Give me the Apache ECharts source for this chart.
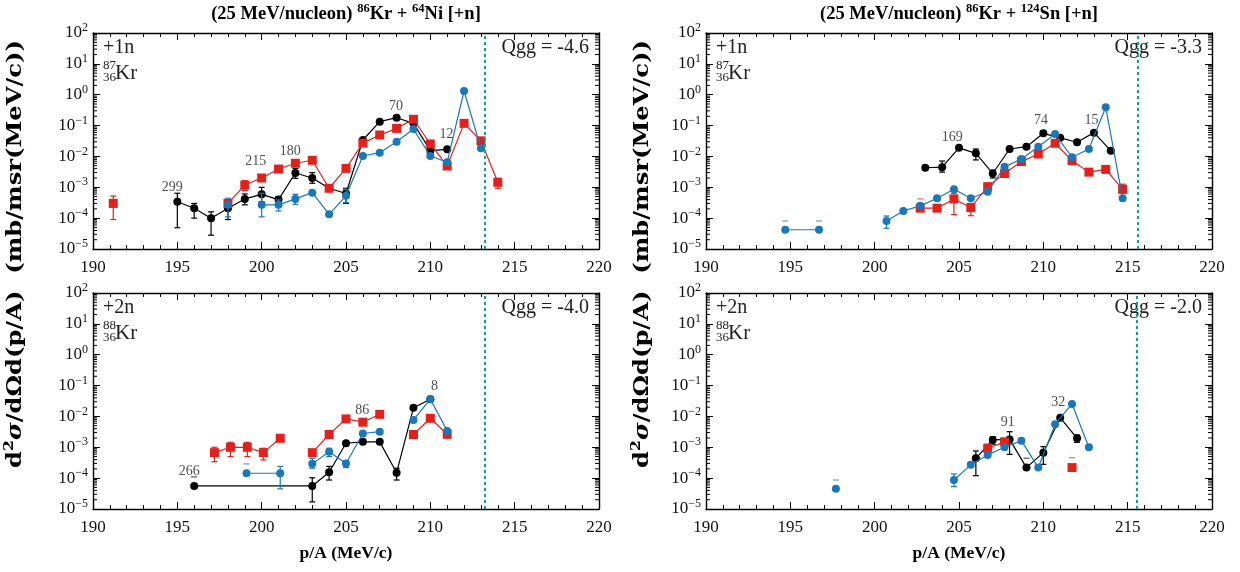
<!DOCTYPE html>
<html><head><meta charset="utf-8">
<script src="https://cdn.jsdelivr.net/npm/echarts@6/dist/echarts.min.js"></script>
<style>html,body{margin:0;padding:0;background:#fff}#c{width:1240px;height:572px}</style>
</head><body><div id="c"></div>
<script>
// ---------- DATA ----------
// Panel A: 86Kr + 64Ni, +1n (87Kr)
const A_black_x  = [195,196,197,198,199,200,201,202,203,204,205,206,207,208,209,210,211];
const A_black_y  = [3.4e-4,2.1e-4,9.9e-5,2.1e-4,4.2e-4,5.9e-4,4.0e-4,2.9e-3,2.0e-3,9.3e-4,6.3e-4,0.034,0.134,0.18,0.118,0.0154,0.017];
const A_black_lo = [4.9e-5,1.0e-4,2.8e-5,9e-5,2.7e-4,3.4e-4,3.2e-4,1.95e-3,1.35e-3,null,3.0e-4,null,null,null,null,null,null];
const A_black_hi = [6.4e-4,3.0e-4,1.6e-4,3.6e-4,6.1e-4,1.0e-3,5.0e-4,4.1e-3,3.0e-3,null,9.3e-4,null,null,null,null,null,null];
const A_red_x  = [191.2,null,198,199,200,201,202,203,204,205,206,207,208,209,210,211,212,213,214];
const A_red_y  = [3.0e-4,null,3.0e-4,1.18e-3,2.0e-3,3.9e-3,6.0e-3,7.5e-3,9.3e-4,4.1e-3,0.027,0.0495,0.081,0.16,0.0253,4.9e-3,0.118,0.032,1.45e-3];
const A_red_lo = [9e-5,null,null,7.8e-4,null,null,null,null,null,null,null,null,null,null,null,null,null,null,9.3e-4];
const A_red_hi = [5.2e-4,null,null,1.64e-3,null,null,null,null,null,null,null,null,null,null,null,null,null,null,1.95e-3];
const A_blue_x  = [198,null,200,201,202,203,204,205,206,207,208,209,210,211,212,213];
const A_blue_y  = [2.7e-4,null,2.7e-4,2.7e-4,4.2e-4,6.7e-4,1.33e-4,5.3e-4,0.0103,0.0132,0.030,0.077,0.0103,6.5e-3,1.32,0.0183];
const A_blue_lo = [1.1e-4,null,1.1e-4,1.7e-4,2.8e-4,null,null,3.2e-4,null,null,null,null,null,null,null,null];
const A_blue_hi = [4.4e-4,null,6.4e-4,3.9e-4,5.9e-4,null,null,8.6e-4,null,null,null,null,null,null,null,null];
const A_label_txt = ['299','215','180','70','12'];
const A_label_x   = [194.7,199.65,201.7,207.97,210.96];
const A_label_y   = [1.0e-3,6.8e-3,0.015,0.43,0.052];

// Panel B: 86Kr + 124Sn, +1n (87Kr)
const B_black_x  = [203,204,205,206,207,208,209,210,211,212,213,214];
const B_black_y  = [4.3e-3,4.5e-3,0.019,0.0126,2.8e-3,0.0174,0.0207,0.056,0.04,0.0288,0.059,0.0154];
const B_black_lo = [null,3.1e-3,null,7.7e-3,2.0e-3,null,null,null,null,null,null,null];
const B_black_hi = [null,7.1e-3,null,0.0174,3.6e-3,null,null,null,null,null,null,null];
const B_red_x  = [202.7,203.7,204.7,205.7,206.7,207.7,208.7,209.7,210.7,211.7,212.7,213.7,214.7];
const B_red_y  = [2.1e-4,2.1e-4,4.2e-4,2.2e-4,1.05e-3,2.8e-3,6.8e-3,0.012,0.0267,7.3e-3,3.1e-3,3.8e-3,8.6e-4];
const B_red_lo = [null,null,1.3e-4,1.2e-4,null,null,null,null,null,null,null,null,6.4e-4];
const B_red_hi = [4.2e-4,null,6.4e-4,3.0e-4,null,null,null,null,null,null,null,null,1.26e-3];
const B_blue_x  = [194.7,196.7,null,200.7,201.7,202.7,203.7,204.7,205.7,206.7,207.7,208.7,209.7,210.7,211.7,212.7,213.7,214.7];
const B_blue_y  = [4.2e-5,4.2e-5,null,8.1e-5,1.7e-4,2.5e-4,4.4e-4,8.6e-4,4.4e-4,7.2e-4,4.6e-3,8.3e-3,0.0207,0.053,9.4e-3,0.0174,0.39,4.4e-4];
const B_blue_lo = [null,null,null,4.7e-5,null,null,null,null,null,null,null,null,null,null,null,null,null,null];
const B_blue_hi = [8.1e-5,8.1e-5,null,1.17e-4,null,null,null,null,null,null,null,null,null,null,null,null,null,null];
const B_label_txt = ['169','74','15'];
const B_label_x   = [204.6,209.86,212.86];
const B_label_y   = [0.042,0.15,0.15];

// Panel C: 86Kr + 64Ni, +2n (88Kr)
const C_black_x  = [196,203,204,205,206,207,208,209,210];
const C_black_y  = [5.6e-5,5.6e-5,1.55e-4,1.35e-3,1.5e-3,1.5e-3,1.5e-4,0.019,0.036];
const C_black_lo = [null,1.7e-5,8.7e-5,null,null,null,8.7e-5,null,null];
const C_black_hi = [1.1e-4,1.03e-4,2.4e-4,null,null,null,2.1e-4,null,null];
const C_red_x  = [197.2,198.15,199.15,200.1,201.1,null,203,204,205,206,207,null,209,210,211];
const C_red_y  = [6.7e-4,1.0e-3,1.0e-3,6.7e-4,1.96e-3,null,6.7e-4,2.6e-3,8.3e-3,6.5e-3,0.0117,null,2.6e-3,8.7e-3,2.65e-3];
const C_red_lo = [3.4e-4,5.0e-4,5.0e-4,3.9e-4,null,null,null,null,null,null,null,null,null,null,2.0e-3];
const C_red_hi = [1.0e-3,1.45e-3,1.45e-3,9.3e-4,null,null,null,null,null,null,null,null,null,null,3.6e-3];
const C_blue_x  = [199.1,201.1,null,203,204,205,206,207,null,209,210,211];
const C_blue_y  = [1.44e-4,1.44e-4,null,2.9e-4,7.2e-4,3.0e-4,2.8e-3,3.2e-3,null,7.7e-3,0.0367,3.4e-3];
const C_blue_lo = [null,4.5e-5,null,2.1e-4,5.0e-4,2.2e-4,null,null,null,null,null,null];
const C_blue_hi = [2.9e-4,2.4e-4,null,4.4e-4,9.3e-4,3.7e-4,null,null,null,null,null,null];
const C_label_txt = ['266','86','8'];
const C_label_x   = [195.7,205.96,210.24];
const C_label_y   = [1.7e-4,0.016,0.092];

// Panel D: 86Kr + 124Sn, +2n (88Kr)
const D_black_x  = [206,207,208,209,210,211,212];
const D_black_y  = [4.4e-4,1.73e-3,1.8e-3,2.2e-4,6.7e-4,9.1e-3,1.96e-3];
const D_black_lo = [1.2e-4,1.26e-3,5.9e-4,null,2.8e-4,null,1.45e-3];
const D_black_hi = [7.6e-4,2.2e-3,3.2e-3,4.4e-4,1.05e-3,null,2.5e-3];
const D_red_x  = [206.7,207.7,null,211.7];
const D_red_y  = [9.3e-4,1.5e-3,null,2.2e-4];
const D_red_lo = [null,null,null,null];
const D_red_hi = [1.26e-3,null,null,4.6e-4];
const D_blue_x  = [197.7,null,204.7,205.7,206.7,207.7,208.7,209.7,210.7,211.7,212.7];
const D_blue_y  = [4.5e-5,null,8.7e-5,2.7e-4,5.6e-4,1.0e-3,1.64e-3,2.2e-4,5.6e-3,0.0253,1.0e-3];
const D_blue_lo = [null,null,5.3e-5,null,null,null,null,null,null,null,null];
const D_blue_hi = [8.7e-5,null,1.36e-4,null,null,null,null,null,null,null,null];
const D_label_txt = ['91','32'];
const D_label_x   = [207.89,210.89];
const D_label_y   = [6.3e-3,0.0288];

const QGG_X   = [213.24, 215.58, 213.24, 215.56];
const QGG_TXT = ['Qgg = -4.6','Qgg = -3.3','Qgg = -4.0','Qgg = -2.0'];
const TAGS    = ['+1n','+1n','+2n','+2n'];
const MASS    = ['87','87','88','88'];
const ZNUM = '36', ELEM = 'Kr';
const X_MIN = 190, X_MAX = 220, X_STEP = 5;
const Y_MIN = 1e-5, Y_MAX = 1e2;

// ---------- LAYOUT / STYLE ----------
const FONT = '"Liberation Serif","DejaVu Serif",serif';
const FONT2 = '"DejaVu Serif","Liberation Serif",serif';
const COL = {black:'#000000', red:'#e3211c', blue:'#1a78b8'};
const C_GREEN = '#17a083';
const GRID_POS = [[93,33],[706,33],[93,293],[706,293]];
const GW = 506, GH = 216;

const panels = [
  {black:[A_black_x,A_black_y,A_black_lo,A_black_hi], red:[A_red_x,A_red_y,A_red_lo,A_red_hi], blue:[A_blue_x,A_blue_y,A_blue_lo,A_blue_hi], lab:[A_label_txt,A_label_x,A_label_y]},
  {black:[B_black_x,B_black_y,B_black_lo,B_black_hi], red:[B_red_x,B_red_y,B_red_lo,B_red_hi], blue:[B_blue_x,B_blue_y,B_blue_lo,B_blue_hi], lab:[B_label_txt,B_label_x,B_label_y]},
  {black:[C_black_x,C_black_y,C_black_lo,C_black_hi], red:[C_red_x,C_red_y,C_red_lo,C_red_hi], blue:[C_blue_x,C_blue_y,C_blue_lo,C_blue_hi], lab:[C_label_txt,C_label_x,C_label_y]},
  {black:[D_black_x,D_black_y,D_black_lo,D_black_hi], red:[D_red_x,D_red_y,D_red_lo,D_red_hi], blue:[D_blue_x,D_blue_y,D_blue_lo,D_blue_hi], lab:[D_label_txt,D_label_x,D_label_y]}
];

const grid = GRID_POS.map(([l,t]) => ({left:l, top:t, width:GW, height:GH}));
const xAxis = [], yAxis = [];
grid.forEach((g,i) => {
  const xb = {type:'value', gridIndex:i, min:X_MIN, max:X_MAX, interval:X_STEP,
    axisLine:{show:true, onZero:false, lineStyle:{color:'#000', width:1.4}},
    axisTick:{show:true, inside:true, length:7, lineStyle:{color:'#000', width:1}},
    minorTick:{show:true, splitNumber:5, length:4, lineStyle:{color:'#000', width:1}},
    splitLine:{show:false}, minorSplitLine:{show:false}};
  xAxis.push(Object.assign({}, xb, {position:'bottom',
    axisLabel:{show:true, fontFamily:FONT, fontSize:17, color:'#111', margin:10}}));
  xAxis.push(Object.assign({}, xb, {position:'top', axisLabel:{show:false}}));
  const yb = {type:'log', logBase:10, gridIndex:i, min:Y_MIN, max:Y_MAX,
    axisLine:{show:true, onZero:false, lineStyle:{color:'#000', width:1.4}},
    axisTick:{show:true, inside:true, length:7, lineStyle:{color:'#000', width:1}},
    splitLine:{show:false}};
  yAxis.push(Object.assign({}, yb, {position:'left',
    axisLabel:{show:true, margin:5, color:'#111',
      formatter: v => { const e = Math.round(Math.log10(v)); return '{b|10}{s|' + (e < 0 ? '\u2212' + (-e) : e) + '}'; },
      rich:{ b:{fontFamily:FONT, fontSize:17, lineHeight:22, verticalAlign:'middle', color:'#111'},
             s:{fontFamily:FONT, fontSize:12, verticalAlign:'top', color:'#111'} }}}));
  yAxis.push(Object.assign({}, yb, {position:'right', axisLabel:{show:false}}));
});

const minorVals = [];
for (let k = -5; k < 2; k++) for (let m = 2; m < 10; m++) minorVals.push(m * Math.pow(10, k));

function lineData(xs, ys) { return xs.map((x,k) => x == null ? ['-','-'] : [x, ys[k]]); }
function barData(xs, lo, hi) { const d=[]; xs.forEach((x,k)=>{ if (x!=null && lo[k]!=null && hi[k]!=null) d.push([x, lo[k], hi[k]]); }); return d; }
function capData(xs, lo, hi) { const d=[]; xs.forEach((x,k)=>{ if (x!=null && lo[k]==null && hi[k]!=null) d.push([x, hi[k]]); }); return d; }

const series = [];
panels.forEach((p,i) => {
  const xi = 2*i, yi = 2*i;
  series.push({type:'custom', xAxisIndex:xi, yAxisIndex:yi, silent:true, z:5,
    data: minorVals.map(v => [200, v]), encode:{x:0, y:1},
    renderItem:(params, api) => {
      const cs = params.coordSys; const y = api.coord([200, api.value(1)])[1];
      return {type:'group', children:[
        {type:'line', shape:{x1:cs.x, y1:y, x2:cs.x+4, y2:y}, style:{stroke:'#000', lineWidth:1}},
        {type:'line', shape:{x1:cs.x+cs.width-4, y1:y, x2:cs.x+cs.width, y2:y}, style:{stroke:'#000', lineWidth:1}}]};
    }});
  const order = [['black','circle',8,2],['red','rect',9,3],['blue','circle',8,4]];
  order.forEach(([key, sym, sz, z]) => {
    const [xs, ys, lo, hi] = p[key];
    const c = COL[key];
    const s = {type:'line', xAxisIndex:xi, yAxisIndex:yi, data:lineData(xs, ys), connectNulls:false,
      symbol:sym, symbolSize:sz, showSymbol:true, z:z, silent:true,
      lineStyle:{color:c, width:1.2}, itemStyle:{color:c}};
    if (key === 'black') s.markLine = {silent:true, symbol:'none', label:{show:false},
      lineStyle:{color:C_GREEN, type:[3,3], width:2}, data:[{xAxis:QGG_X[i]}]};
    series.push(s);
    series.push({type:'custom', xAxisIndex:xi, yAxisIndex:yi, silent:true, z:z,
      data: barData(xs, lo, hi), encode:{x:0, y:[1,2]},
      renderItem:(params, api) => {
        const x = api.value(0); const a = api.coord([x, api.value(1)]); const b = api.coord([x, api.value(2)]);
        const st = {stroke:c, lineWidth:1.2};
        return {type:'group', children:[
          {type:'line', shape:{x1:a[0], y1:a[1], x2:b[0], y2:b[1]}, style:st},
          {type:'line', shape:{x1:a[0]-3, y1:a[1], x2:a[0]+3, y2:a[1]}, style:st},
          {type:'line', shape:{x1:b[0]-3, y1:b[1], x2:b[0]+3, y2:b[1]}, style:st}]};
      }});
    series.push({type:'custom', xAxisIndex:xi, yAxisIndex:yi, silent:true, z:z,
      data: capData(xs, lo, hi), encode:{x:0, y:1},
      renderItem:(params, api) => {
        const b = api.coord([api.value(0), api.value(1)]);
        return {type:'line', shape:{x1:b[0]-3, y1:b[1], x2:b[0]+3, y2:b[1]}, style:{stroke:c, lineWidth:1.5, opacity:0.55}};
      }});
  });
  const [lt, lx, ly] = p.lab;
  series.push({type:'scatter', xAxisIndex:xi, yAxisIndex:yi, symbolSize:0, silent:true, z:6,
    data: lt.map((t,k) => ({name:t, value:[lx[k], ly[k]]})),
    label:{show:true, position:'inside', formatter:'{b}', fontFamily:FONT, fontSize:14, color:'#222'}});
});

// ---------- TEXT ----------
const graphic = [];
const supB = {fontFamily:FONT, fontSize:12.5, fontWeight:'bold', verticalAlign:'top', fill:'#000'};
const baseB = {fontFamily:FONT, fontSize:18.5, fontWeight:'bold', lineHeight:24, verticalAlign:'middle', fill:'#000'};
const TITLES = ['{b|(25 MeV/nucleon) }{s|86}{b|Kr + }{s|64}{b|Ni [+n]}', '{b|(25 MeV/nucleon) }{s|86}{b|Kr + }{s|124}{b|Sn [+n]}'];
[0,1].forEach(j => {
  graphic.push({type:'text', x:GRID_POS[j][0]+GW/2, y:14, silent:true,
    style:{text:TITLES[j], align:'center', verticalAlign:'middle', textAlign:'center', textVerticalAlign:'middle', rich:{b:baseB, s:supB}}});
  graphic.push({type:'text', x:GRID_POS[j+2][0]+GW/2, y:553, silent:true,
    style:{text:'p/A (MeV/c)', align:'center', verticalAlign:'middle', textAlign:'center', textVerticalAlign:'middle', font:'bold 17.5px ' + FONT, fill:'#000'}});
  const yb = {fontFamily:FONT2, fontSize:20, fontWeight:'bold', lineHeight:26, verticalAlign:'middle', fill:'#000'};
  graphic.push({type:'text', x:[16,643][j], y:254, rotation:Math.PI/2, scaleX:1.21, silent:true,
    style:{text:'{b|d}{s|2}{i|\u03c3}{b|/d\u03a9d(p/A)  (mb/msr(MeV/c))}', align:'center', verticalAlign:'middle', textAlign:'center', textVerticalAlign:'middle',
      rich:{b:yb, s:{fontFamily:FONT2, fontSize:13, fontWeight:'bold', verticalAlign:'top', fill:'#000'}, i:Object.assign({}, yb, {fontStyle:'italic'})}}});
});
GRID_POS.forEach(([L,T], i) => {
  const f = s => s + 'px ' + FONT;
  graphic.push({type:'text', x:L+10, y:T+15, silent:true, style:{text:TAGS[i], font:f(20), fill:'#222', align:'left', verticalAlign:'middle', textAlign:'left', textVerticalAlign:'middle'}});
  graphic.push({type:'text', x:L+10, y:T+33, silent:true, style:{text:MASS[i], font:f(13), fill:'#222', align:'left', verticalAlign:'middle', textAlign:'left', textVerticalAlign:'middle'}});
  graphic.push({type:'text', x:L+10, y:T+45, silent:true, style:{text:ZNUM, font:f(13), fill:'#222', align:'left', verticalAlign:'middle', textAlign:'left', textVerticalAlign:'middle'}});
  graphic.push({type:'text', x:L+22, y:T+40, silent:true, style:{text:ELEM, font:f(21), fill:'#222', align:'left', verticalAlign:'middle', textAlign:'left', textVerticalAlign:'middle'}});
  graphic.push({type:'text', x:L+GW-10, y:T+15, silent:true, style:{text:QGG_TXT[i], font:f(20), fill:'#222', align:'right', verticalAlign:'middle', textAlign:'right', textVerticalAlign:'middle'}});
});

const chart = echarts.init(document.getElementById('c'), null, {renderer:'canvas'});
chart.setOption({animation:false, backgroundColor:'#fff', grid, xAxis, yAxis, series, graphic});
</script></body></html>
